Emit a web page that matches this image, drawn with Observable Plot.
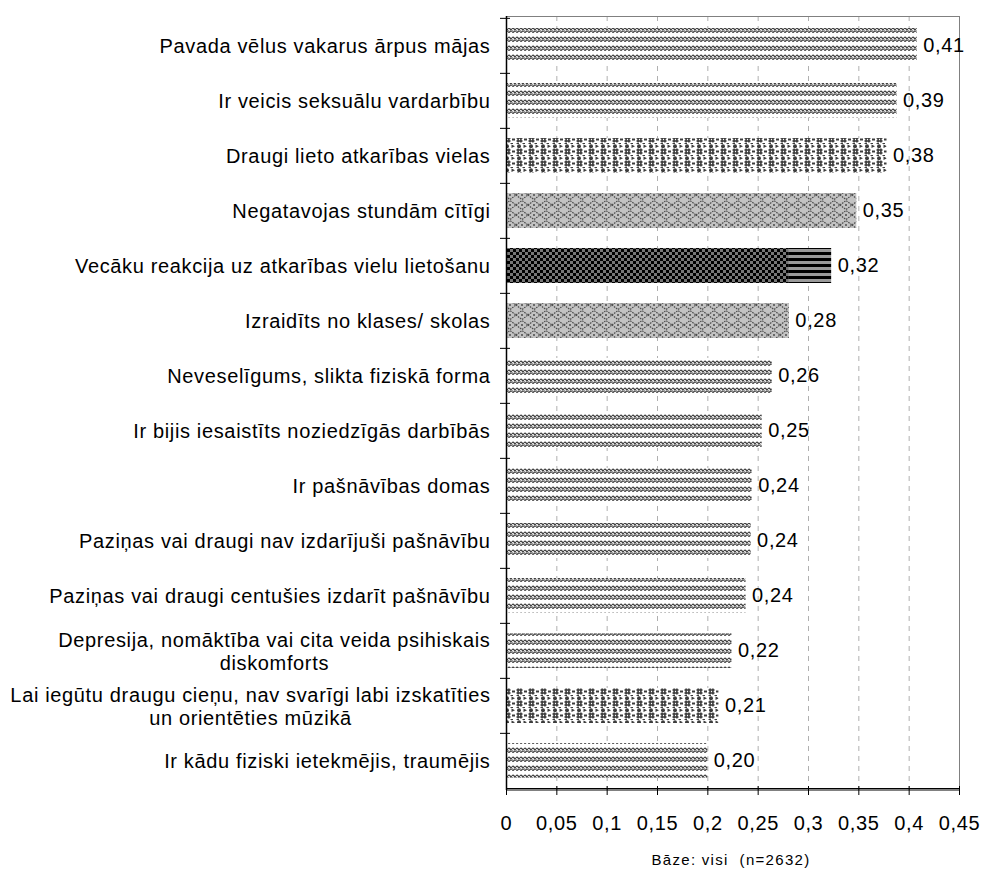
<!DOCTYPE html>
<html>
<head>
<meta charset="utf-8">
<script src="https://cdn.jsdelivr.net/npm/d3@7"></script>
<script src="https://cdn.jsdelivr.net/npm/@observablehq/plot@0.6"></script>
<style>
  html, body { margin: 0; padding: 0; background: #fff; }
  body { width: 984px; height: 869px; position: relative; overflow: hidden; color: #000;
         font-family: "Liberation Sans", Arial, sans-serif; }
  #chart svg text { letter-spacing: 0.65px; }
  #foot { position: absolute; top: 852px; left: 581px; width: 300px; text-align: center;
          font-size: 15px; letter-spacing: 1.3px; white-space: pre; line-height: 16px; }
</style>
</head>
<body>
<div id="chart"></div>
<div id="foot"></div>
<script>
// ---- data ----
const categories = [
  "Pavada vēlus vakarus ārpus mājas",
  "Ir veicis seksuālu vardarbību",
  "Draugi lieto atkarības vielas",
  "Negatavojas stundām cītīgi",
  "Vecāku reakcija uz atkarības vielu lietošanu",
  "Izraidīts no klases/ skolas",
  "Neveselīgums, slikta fiziskā forma",
  "Ir bijis iesaistīts noziedzīgās darbībās",
  "Ir pašnāvības domas",
  "Paziņas vai draugi nav izdarījuši pašnāvību",
  "Paziņas vai draugi centušies izdarīt pašnāvību",
  "Depresija, nomāktība vai cita veida psihiskais\ndiskomforts",
  "Lai iegūtu draugu cieņu, nav svarīgi labi izskatīties\nun orientēties mūzikā",
  "Ir kādu fiziski ietekmējis, traumējis"
];
const values = [0.408, 0.388, 0.378, 0.348, 0.323, 0.281, 0.264, 0.254, 0.244, 0.243, 0.238, 0.224, 0.211, 0.200];
const xTicks = [0, 0.05, 0.1, 0.15, 0.2, 0.25, 0.3, 0.35, 0.4, 0.45];
const footnote = "Bāze: visi  (n=2632)";

// ---- rendering ----
const data = categories.map((c, i) => ({category: c, value: values[i]}));
const comma = (f) => (d) => f(d).replace(".", ",");
const tickFmt = comma(d3.format(".2~f"));
const valFmt = comma(d3.format(".2f"));

const patternIds = ["pWave","pWave","pDots","pDiamond","pChecker","pDiamond","pWave","pWave","pWave","pWave","pWave","pWave","pDots","pWave"];

const W = 984, H = 840, mT = 16, mB = 50;
const bw = (H - mT - mB) / categories.length;

const plot = Plot.plot({
  width: W, height: H,
  marginLeft: 506, marginRight: 25, marginTop: mT, marginBottom: mB,
  style: {fontFamily: "'Liberation Sans', Arial, sans-serif", color: "#000", background: "#fff"},
  x: {domain: [0, 0.45]},
  y: {type: "band", domain: categories, padding: 0},
  color: {type: "ordinal", domain: categories, range: patternIds.map(p => `url(#${p})`)},
  marks: [
    Plot.gridX({ticks: xTicks.slice(1), stroke: "#b0b0b0", strokeOpacity: 1, strokeDasharray: "5,5"}),
    Plot.barX(data, {x: "value", y: "category", fill: "category", insetTop: 10, insetBottom: 10}),
    Plot.frame({stroke: "#808080"}),
    Plot.ruleX([0], {stroke: "#000", strokeWidth: 1.5}),
    Plot.ruleY([categories[categories.length - 1]], {dy: bw / 2, stroke: "#000", strokeWidth: 1.5}),
    Plot.axisY({tickSize: 10, dx: 4, dy: -bw / 2, tickFormat: () => "", stroke: "#000", label: null}),
    Plot.axisX({ticks: xTicks, tickSize: 9, dy: -4, tickFormat: () => "", stroke: "#000", label: null}),
    Plot.axisX({ticks: xTicks, tickSize: 0, tickPadding: 25, tickFormat: tickFmt, fontSize: 20, fill: "#000", label: null}),
    Plot.text(data, {x: "value", y: "category", text: d => valFmt(d.value), dx: 6, textAnchor: "start", fontSize: 20, fill: "#000"}),
    Plot.text(categories, {y: d => d, text: d => d, frameAnchor: "left", textAnchor: "end", dx: -16, fontSize: 20, lineHeight: 1.15, fill: "#000"})
  ]
});

document.getElementById("chart").appendChild(plot);
document.getElementById("foot").textContent = footnote;

// ---- patterns ----
const svg = d3.select(plot.tagName.toLowerCase() === "svg" ? plot : plot.querySelector("svg"));
const defs = svg.insert("defs", ":first-child");
const ink = "#3c3c3c";

// wavy lines (pairs of fine wavy lines with thin white gaps)
const pw = defs.append("pattern").attr("id", "pWave").attr("patternUnits", "userSpaceOnUse").attr("width", 4).attr("height", 9);
pw.append("rect").attr("width", 4).attr("height", 9).attr("fill", "#fff");
pw.append("path").attr("d", "M0,1.8 Q1,0.5 2,1.8 T4,1.8").attr("fill", "none").attr("stroke", ink).attr("stroke-width", 1.25);
pw.append("path").attr("d", "M0,4.6 Q1,5.9 2,4.6 T4,4.6").attr("fill", "none").attr("stroke", ink).attr("stroke-width", 1.25);
pw.append("rect").attr("x", 0).attr("y", 2.9).attr("width", 1.2).attr("height", 0.9).attr("fill", "#888");

// dots / crosses
const pd = defs.append("pattern").attr("id", "pDots").attr("patternUnits", "userSpaceOnUse").attr("width", 12).attr("height", 12);
pd.append("rect").attr("width", 12).attr("height", 12).attr("fill", "#fff");
pd.append("circle").attr("cx", 3).attr("cy", 2.2).attr("r", 2).attr("fill", ink);
pd.append("path").attr("d", "M7.5,0.4 L11,2.2 L7.5,4 Z").attr("fill", ink);
pd.append("rect").attr("x", 0.5).attr("y", 5.2).attr("width", 6).attr("height", 1.6).attr("fill", ink);
pd.append("rect").attr("x", 0.5).attr("y", 8.2).attr("width", 6).attr("height", 1.6).attr("fill", ink);
pd.append("rect").attr("x", 1.3).attr("y", 4.5).attr("width", 1.6).attr("height", 6).attr("fill", ink);
pd.append("rect").attr("x", 4.1).attr("y", 4.5).attr("width", 1.6).attr("height", 6).attr("fill", ink);
pd.append("rect").attr("x", 8).attr("y", 6.5).attr("width", 3).attr("height", 2).attr("fill", ink);
pd.append("rect").attr("x", 0.5).attr("y", 11).attr("width", 2.5).attr("height", 1).attr("fill", ink);
pd.append("rect").attr("x", 6.5).attr("y", 11).attr("width", 2.5).attr("height", 1).attr("fill", ink);

// diamonds on gray
const pm = defs.append("pattern").attr("id", "pDiamond").attr("patternUnits", "userSpaceOnUse").attr("width", 12).attr("height", 10);
pm.append("rect").attr("width", 12).attr("height", 10).attr("fill", "#c3c3c3");
pm.append("path").attr("d", "M0,5 L6,0.5 L12,5 L6,9.5 Z").attr("fill", "none").attr("stroke", "#4a4a4a").attr("stroke-width", 1.2).attr("stroke-dasharray", "1.6,1");
pm.append("circle").attr("cx", 6).attr("cy", 5).attr("r", 1).attr("fill", "#4a4a4a");

// checker
const pcb = defs.append("pattern").attr("id", "pCheckerBase").attr("patternUnits", "userSpaceOnUse").attr("width", 6).attr("height", 6);
pcb.append("rect").attr("width", 6).attr("height", 6).attr("fill", "#777");
pcb.append("rect").attr("x", 0).attr("y", 0).attr("width", 3).attr("height", 3).attr("fill", "#000");
pcb.append("rect").attr("x", 3).attr("y", 3).attr("width", 3).attr("height", 3).attr("fill", "#000");

// horizontal stripes (end of the checker fill, as in the original picture fill)
const ps = defs.append("pattern").attr("id", "pStripes").attr("patternUnits", "userSpaceOnUse").attr("width", 6).attr("height", 6);
ps.append("rect").attr("width", 6).attr("height", 6).attr("fill", "#9a9a9a");
ps.append("rect").attr("y", 0).attr("width", 6).attr("height", 3).attr("fill", "#000");

// combined fill: checker for most of the bar, stripes at its right end
const checkerBar = svg.selectAll("rect").filter(function() { return this.getAttribute("fill") === "url(#pChecker)"; });
let split = W;
checkerBar.each(function() {
  const x = +this.getAttribute("x"), w = +this.getAttribute("width");
  split = x + w * 0.87;
});
const pc = defs.append("pattern").attr("id", "pChecker").attr("patternUnits", "userSpaceOnUse")
  .attr("x", 0).attr("y", 0).attr("width", W).attr("height", H);
pc.append("rect").attr("x", 0).attr("y", 0).attr("width", split).attr("height", H).attr("fill", "url(#pCheckerBase)");
pc.append("rect").attr("x", split).attr("y", 0).attr("width", W - split).attr("height", H).attr("fill", "url(#pStripes)");

// center multi-line category labels (as in the original)
svg.selectAll("text").each(function() {
  const t = this;
  if (t.querySelectorAll("tspan").length > 1) {
    const bb = t.getBBox();
    t.setAttribute("text-anchor", "middle");
    const tr = t.getAttribute("transform") || "";
    t.setAttribute("transform", tr + ` translate(${bb.x + bb.width / 2},0)`);
  }
});
</script>
</body>
</html>
